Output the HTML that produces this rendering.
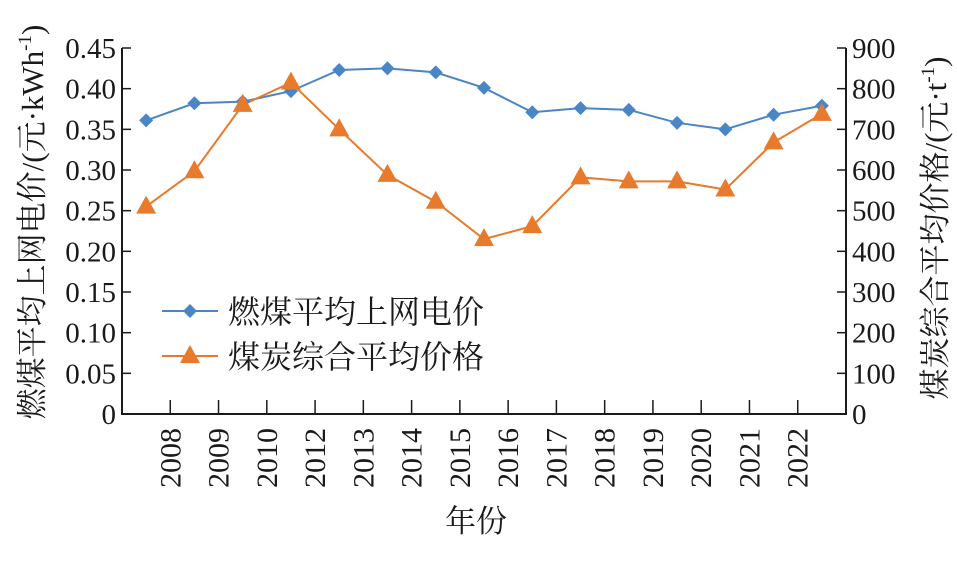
<!DOCTYPE html>
<html><head><meta charset="utf-8"><style>
body{margin:0;background:#fff}
svg text{font-family:"Liberation Serif","Noto Serif CJK SC",serif;fill:#1a1a1a}
</style></head><body>
<svg id="c" width="957" height="576" viewBox="0 0 957 576"></svg>
<script>
const categories=["2007","2008","2009","2010","2012","2013","2014","2015","2016","2017","2018","2019","2020","2021","2022"];
const tickLabels=["2008","2009","2010","2012","2013","2014","2015","2016","2017","2018","2019","2020","2021","2022"];
const elecPrice=[0.361,0.382,0.384,0.397,0.423,0.425,0.420,0.401,0.371,0.376,0.374,0.358,0.350,0.368,0.379];
const coalPrice=[510,597,760,815,700,588,522,430,462,582,572,572,552,668,738];
const leftTicks=[0,0.05,0.10,0.15,0.20,0.25,0.30,0.35,0.40,0.45];
const rightTicks=[0,100,200,300,400,500,600,700,800,900];
const NS="http://www.w3.org/2000/svg";
const svg=document.getElementById('c');
const L=122,R=846,T=48,B=414;
const bw=(R-L)/categories.length;
const xC=i=>L+bw*(i+0.5);
const yL=v=>B-(v/0.45)*(B-T);
const yR=v=>B-(v/900)*(B-T);
function mk(tag,a,p){const e=document.createElementNS(NS,tag);for(const k in a)e.setAttribute(k,a[k]);(p||svg).appendChild(e);return e;}
let e=mk('path',{d:`M${L},${T} V${B} H${R} V${T}`,fill:'none',stroke:'#1a1a1a','stroke-width':2});


leftTicks.forEach(v=>{const y=yL(v);
 let t=mk('line',{x1:L,x2:L+9,y1:y,y2:y,stroke:'#1a1a1a','stroke-width':1.5});
 
 
 let tx=mk('text',{x:L-6,y:y+10,'text-anchor':'end','font-size':29});tx.textContent=v===0?'0':v.toFixed(2);
 
 });
rightTicks.forEach(v=>{const y=yR(v);
 let t=mk('line',{x1:R-9,x2:R,y1:y,y2:y,stroke:'#1a1a1a','stroke-width':1.5});
 
 
 let tx=mk('text',{x:R+6,y:y+10,'text-anchor':'start','font-size':29});tx.textContent=String(v);
 
 });
tickLabels.forEach((lab,i)=>{const x=L+bw*(i+1);
 let t=mk('line',{x1:x,x2:x,y1:B-14,y2:B,stroke:'#1a1a1a','stroke-width':1.5});
 
 
 let tx=mk('text',{x:0,y:0,'text-anchor':'end','font-size':30,transform:`translate(${x+10},${B+14}) rotate(-90)`});tx.textContent=lab;
 
 });
const blue='#4a86c5',orange='#e87a2c';
e=mk('polyline',{points:elecPrice.map((v,i)=>xC(i)+','+yL(v)).join(' '),fill:'none',stroke:blue,'stroke-width':2});


e=mk('polyline',{points:coalPrice.map((v,i)=>xC(i)+','+yR(v)).join(' '),fill:'none',stroke:orange,'stroke-width':2});


elecPrice.forEach((v,i)=>{const x=xC(i),y=yL(v);
 let m=mk('path',{d:`M${x},${y-7} L${x+7},${y} L${x},${y+7} L${x-7},${y} Z`,fill:blue});
 
 });
coalPrice.forEach((v,i)=>{const x=xC(i),y=yR(v);
 let m=mk('path',{d:`M${x},${y-11} L${x+10},${y+7} L${x-10},${y+7} Z`,fill:orange});
 
 });
e=mk('line',{x1:162,x2:218,y1:311,y2:311,stroke:blue,'stroke-width':2});


e=mk('path',{d:'M190,304 L197,311 L190,318 L183,311 Z',fill:blue});


e=mk('text',{x:228,y:323,'font-size':32});e.textContent='燃煤平均上网电价';


e=mk('line',{x1:162,x2:218,y1:356,y2:356,stroke:orange,'stroke-width':2});


e=mk('path',{d:'M190,345 L200,363 L180,363 Z',fill:orange});


e=mk('text',{x:228,y:368,'font-size':32});e.textContent='煤炭综合平均价格';


e=mk('text',{x:0,y:0,'text-anchor':'middle','font-size':31,transform:'translate(43,222) rotate(-90)'});
e.innerHTML='燃煤平均上网电价/(元·kWh<tspan dy="-12" font-size="19">-1</tspan><tspan dy="12">)</tspan>';


e=mk('text',{x:0,y:0,'text-anchor':'middle','font-size':31,transform:'translate(946,228) rotate(-90)'});
e.innerHTML='煤炭综合平均价格/(元·t<tspan dy="-12" font-size="19">-1</tspan><tspan dy="12">)</tspan>';


e=mk('text',{x:476,y:532,'text-anchor':'middle','font-size':31});e.textContent='年份';


</script>
</body></html>
